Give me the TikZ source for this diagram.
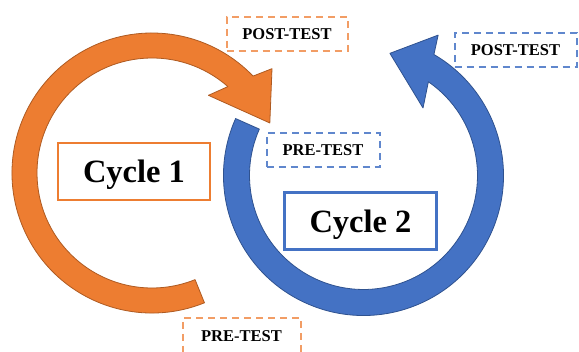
\documentclass[tikz,border=0pt]{standalone}
\usepackage{fontspec}
\setmainfont{Liberation Serif}
\definecolor{ppOrange}{HTML}{ED7D31}
\definecolor{ppOrangeDark}{HTML}{AE5A21}
\definecolor{ppBlue}{HTML}{4472C4}
\definecolor{ppBlueDark}{HTML}{2F528F}

\begin{document}
\begin{tikzpicture}[x=1pt,y=1pt,
    orangearrow/.style={fill=ppOrange,draw=ppOrangeDark,line width=0.8pt,line join=round},
    bluearrow/.style={fill=ppBlue,draw=ppBlueDark,line width=0.8pt,line join=round},
    cyc/.style={draw,fill=white,line width=2.2pt,minimum width=152pt,minimum height=57pt,
      inner sep=0pt,text depth=0pt,font=\fontsize{32.5}{36}\selectfont\bfseries},
    tst/.style={draw,fill=white,dash pattern=on 7pt off 5pt,line width=2pt,
      minimum height=34pt,inner sep=0pt,font=\fontsize{16.5}{18}\selectfont\bfseries}]

    \clip (0,0) rectangle (579,352);

    % cycle 2 (drawn first, orange head lies over it)
    \begin{scope}[shift={(363.5,176.5)}]
      \path[bluearrow] (156:140) arc[start angle=156,end angle=419.8,radius=140]
        -- (62:159) -- (77.8:125) -- (48.6:90) -- (55.3:114)
        arc[start angle=415.3,end angle=156,radius=114] -- cycle;
    \end{scope}

    % cycle 1
    \begin{scope}[shift={(152,179)}]
      \path[orangearrow] (292:140) arc[start angle=292,end angle=43.8,radius=140]
        -- (41:159) -- (23:128) -- (54:96) -- (48.7:115)
        arc[start angle=48.7,end angle=292,radius=115] -- cycle;
    \end{scope}

    \node[cyc,draw=ppOrange] (c1) at (134,180.5) {Cycle 1};
    \node[cyc,draw=ppBlue] (c2) at (360.5,131) {Cycle 2};

    \begin{scope}[every node/.append style={tst}]
      \node[draw=ppOrange!75,minimum width=121pt] (post1) at (287,318) {POST-TEST};
      \node[draw=ppOrange!75,minimum width=118pt,minimum height=36pt] (pre1) at (241.5,16) {PRE-TEST};
      \node[draw=ppBlue!85,minimum width=113pt] (pre2) at (323,202) {PRE-TEST};
      \node[draw=ppBlue!85,minimum width=122pt] (post2) at (515.5,301.5) {POST-TEST};
    \end{scope}
  \end{tikzpicture}
\end{document}
